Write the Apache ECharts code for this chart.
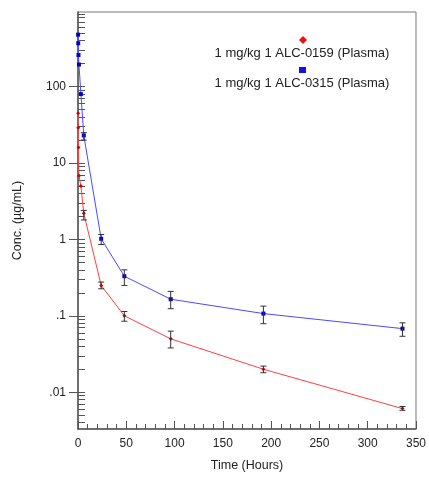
<!DOCTYPE html>
<html>
<head>
<meta charset="utf-8">
<script src="https://cdn.jsdelivr.net/npm/echarts@6/dist/echarts.min.js"></script>
<style>html,body{margin:0;padding:0;background:#fff;}#c{width:429px;height:477px;}</style>
</head>
<body>
<div id="c"></div>
<script>
// ---- data ----
const timesHours = [0.1, 0.25, 0.5, 1, 3, 6, 24, 48, 96, 192, 336];
const alc0159 = [45, 29, 16, 6.8, 5.0, 2.2, 0.25, 0.10, 0.050, 0.020, 0.0061];
const alc0315 = [480, 370, 260, 195, 80, 23, 1.02, 0.33, 0.165, 0.107, 0.068];
const errTimes = [6, 24, 48, 96, 192, 336];
const alc0159Lo = [1.8, 0.226, 0.085, 0.038, 0.018, 0.0058];
const alc0159Hi = [2.4, 0.277, 0.114, 0.063, 0.022, 0.0065];
const alc0315Lo = [20, 0.86, 0.25, 0.124, 0.079, 0.054];
const alc0315Hi = [25, 1.16, 0.40, 0.209, 0.134, 0.081];
const xTickLabels = [0, 50, 100, 150, 200, 250, 300, 350];
const yTickValues = [0.01, 0.1, 1, 10, 100];
const yTickLabels = ['.01', '.1', '1', '10', '100'];
const seriesNames = ['1 mg/kg 1 ALC-0159 (Plasma)', '1 mg/kg 1 ALC-0315 (Plasma)'];

const Y_MIN = 0.0033, Y_MAX = 950;
const minorY = [];
[0.001, 0.01, 0.1, 1, 10, 100].forEach(d => {
  for (let k = 1; k <= 9; k++) {
    const v = +(k * d).toPrecision(3);
    if (v >= Y_MIN && v <= Y_MAX) minorY.push(v);
  }
});

const pts = (vals) => timesHours.map((t, i) => [t, vals[i]]);
const errs = (lo, hi) => errTimes.map((t, i) => [t, lo[i], hi[i]]);

function errRender(params, api) {
  const x = api.value(0);
  const a = api.coord([x, api.value(1)]);
  const b = api.coord([x, api.value(2)]);
  const cap = 3;
  const st = { stroke: '#333', lineWidth: 1 };
  return {
    type: 'group',
    children: [
      { type: 'line', shape: { x1: a[0], y1: a[1], x2: b[0], y2: b[1] }, style: st },
      { type: 'line', shape: { x1: a[0] - cap, y1: a[1], x2: a[0] + cap, y2: a[1] }, style: st },
      { type: 'line', shape: { x1: b[0] - cap, y1: b[1], x2: b[0] + cap, y2: b[1] }, style: st }
    ]
  };
}

const font = 'Liberation Sans, Arial, sans-serif';
const chart = echarts.init(document.getElementById('c'), null, { renderer: 'canvas' });
chart.setOption({
  animation: false,
  backgroundColor: '#fff',
  grid: { left: 78, top: 12, width: 342, height: 421, show: true, borderColor: '#777', borderWidth: 1, backgroundColor: 'transparent' },
  xAxis: {
    type: 'value', min: 0, max: 350, interval: 50,
    name: 'Time (Hours)', nameLocation: 'middle', nameGap: 30,
    nameTextStyle: { fontFamily: font, fontSize: 12.5, color: '#222' },
    axisLine: { show: true, lineStyle: { color: '#555', width: 1.5 } },
    axisTick: { show: true, inside: true, length: 8, lineStyle: { color: '#555' } },
    minorTick: { show: true, splitNumber: 5, length: 5, lineStyle: { color: '#555' } },
    axisLabel: { fontFamily: font, fontSize: 12, color: '#222', margin: 9 },
    splitLine: { show: false }
  },
  yAxis: [
    {
      type: 'log', logBase: 10, min: Y_MIN, max: Y_MAX,
      name: 'Conc. (µg/mL)', nameLocation: 'middle', nameGap: 54,
      nameTextStyle: { fontFamily: font, fontSize: 12.5, color: '#222' },
      axisLine: { show: true, lineStyle: { color: '#555', width: 1.5 } },
      axisTick: { show: true, inside: false, length: 9, customValues: yTickValues, lineStyle: { color: '#555' } },
      axisLabel: {
        fontFamily: font, fontSize: 12, color: '#222', margin: 12,
        customValues: yTickValues,
        formatter: (v) => {
          const i = yTickValues.findIndex(t => Math.abs(Math.log10(t) - Math.log10(v)) < 1e-6);
          return i >= 0 ? yTickLabels[i] : '';
        }
      },
      splitLine: { show: false }
    },
    {
      type: 'log', logBase: 10, min: Y_MIN, max: Y_MAX, position: 'left', offset: 0,
      axisLine: { show: false },
      axisTick: { show: true, inside: true, length: 7, customValues: minorY, lineStyle: { color: '#555' } },
      axisLabel: { show: false },
      splitLine: { show: false }
    }
  ],
  series: [
    {
      name: seriesNames[0], type: 'line', data: pts(alc0159),
      symbol: 'diamond', symbolSize: 4, showSymbol: true,
      itemStyle: { color: '#cc0000' }, lineStyle: { color: '#ff4040', width: 1 }, z: 3
    },
    {
      name: seriesNames[1], type: 'line', data: pts(alc0315),
      symbol: 'rect', symbolSize: 4, showSymbol: true,
      itemStyle: { color: '#0000cc' }, lineStyle: { color: '#4a4aff', width: 1 }, z: 3
    },
    { type: 'custom', data: errs(alc0159Lo, alc0159Hi), renderItem: errRender, encode: { x: 0, y: [1, 2] }, z: 4, silent: true },
    { type: 'custom', data: errs(alc0315Lo, alc0315Hi), renderItem: errRender, encode: { x: 0, y: [1, 2] }, z: 4, silent: true }
  ],
  graphic: [
    { type: 'polygon', shape: { points: [[303, 36], [307, 40], [303, 44], [299, 40]] }, style: { fill: '#ee1111' } },
    { type: 'text', x: 302, y: 53, style: { text: seriesNames[0], font: '13px ' + font, fill: '#222', align: 'center', verticalAlign: 'middle' } },
    { type: 'rect', shape: { x: 299, y: 67, width: 7, height: 6 }, style: { fill: '#1010ee' } },
    { type: 'text', x: 302, y: 83, style: { text: seriesNames[1], font: '13px ' + font, fill: '#222', align: 'center', verticalAlign: 'middle' } }
  ]
});
</script>
</body>
</html>
